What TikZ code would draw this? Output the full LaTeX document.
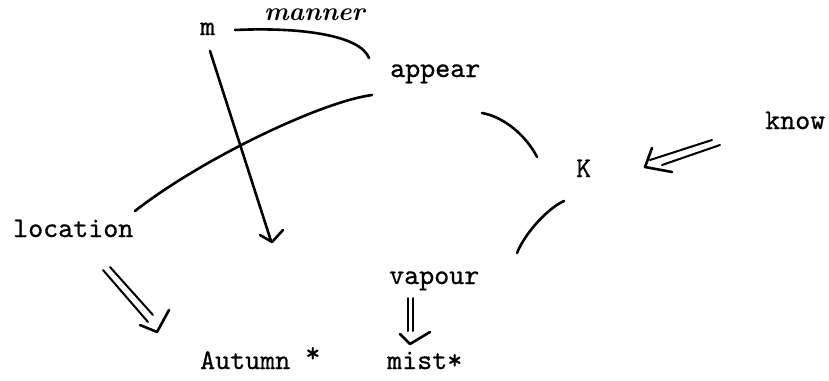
\documentclass[tikz,border=0pt]{standalone}
\usepackage{fontspec}
\newfontfamily\twfont{lmmono10-regular.otf}[FakeBold=0.7]
\begin{document}
\begin{tikzpicture}[x=1pt,y=-1pt,
  word/.style={font=\twfont\fontsize{28.6}{30}\selectfont, inner sep=0pt, anchor=base west},
  hand/.style={line width=2.6pt, line cap=round, line join=round},
  thin/.style={line width=2pt, line cap=round, line join=round}]
\useasboundingbox (0,0) rectangle (829,380);
\fill[white] (0,0) rectangle (829,380);

% words
\node[word] (m) at (200,35) {m};
\node[font=\bfseries\itshape\fontsize{26}{27}\selectfont, inner sep=0pt, anchor=base west] (manner) at (264,20) {manner};
\node[word] (appear) at (390,77) {appear};
\node[word] (know) at (765,129) {know};
\node[word] (K) at (576,177) {K};
\node[word] (location) at (13,237) {location};
\node[word] (vapour) at (389,284) {vapour};
\node[word] (autumn) at (200,369) {Autumn \raisebox{7pt}{*}};
\node[word] (mist) at (387,369) {mist*};

% end points of the strokes
\coordinate (ma1) at (235,30);  \coordinate (ma2) at (369,58);
\coordinate (mt1) at (210,51);  \coordinate (mt2) at (271,241);
\coordinate (al1) at (372,95);  \coordinate (al2) at (135,211);
\coordinate (ak1) at (482,113); \coordinate (ak2) at (537,157);
\coordinate (kv1) at (564,201); \coordinate (kv2) at (517,253);

% m -- appear (manner)
\draw[hand] (ma1) .. controls (300,27) and (360,35) .. (ma2);
% m -> (arrow down)
\draw[hand] (mt1) -- (mt2);
\draw[hand] (260,235) -- (272,242) -- (283,230);
% appear -- location
\draw[hand] (al1) .. controls (320,102) and (200,160) .. (al2);
% appear -- K
\draw[hand] (ak1) .. controls (505,117) and (527,137) .. (ak2);
% K -- vapour
\draw[hand] (kv1) .. controls (548,208) and (525,233) .. (kv2);

% know => K
\draw[thin] (712,140) -- (650,160);
\draw[thin] (720,145) -- (662,165);
\draw[hand] (652,148) -- (645,167) -- (672,172);

% location => Autumn
\draw[thin] (103,270) -- (148,322);
\draw[thin] (110,267) -- (153,315);
\draw[hand] (140,325) -- (157,332) -- (169,310);

% vapour => mist
\draw[thin] (408,298) -- (408,331);
\draw[thin] (413,298) -- (413,331);
\draw[hand] (400,334) -- (410,344) -- (430,332);
\end{tikzpicture}
\end{document}
